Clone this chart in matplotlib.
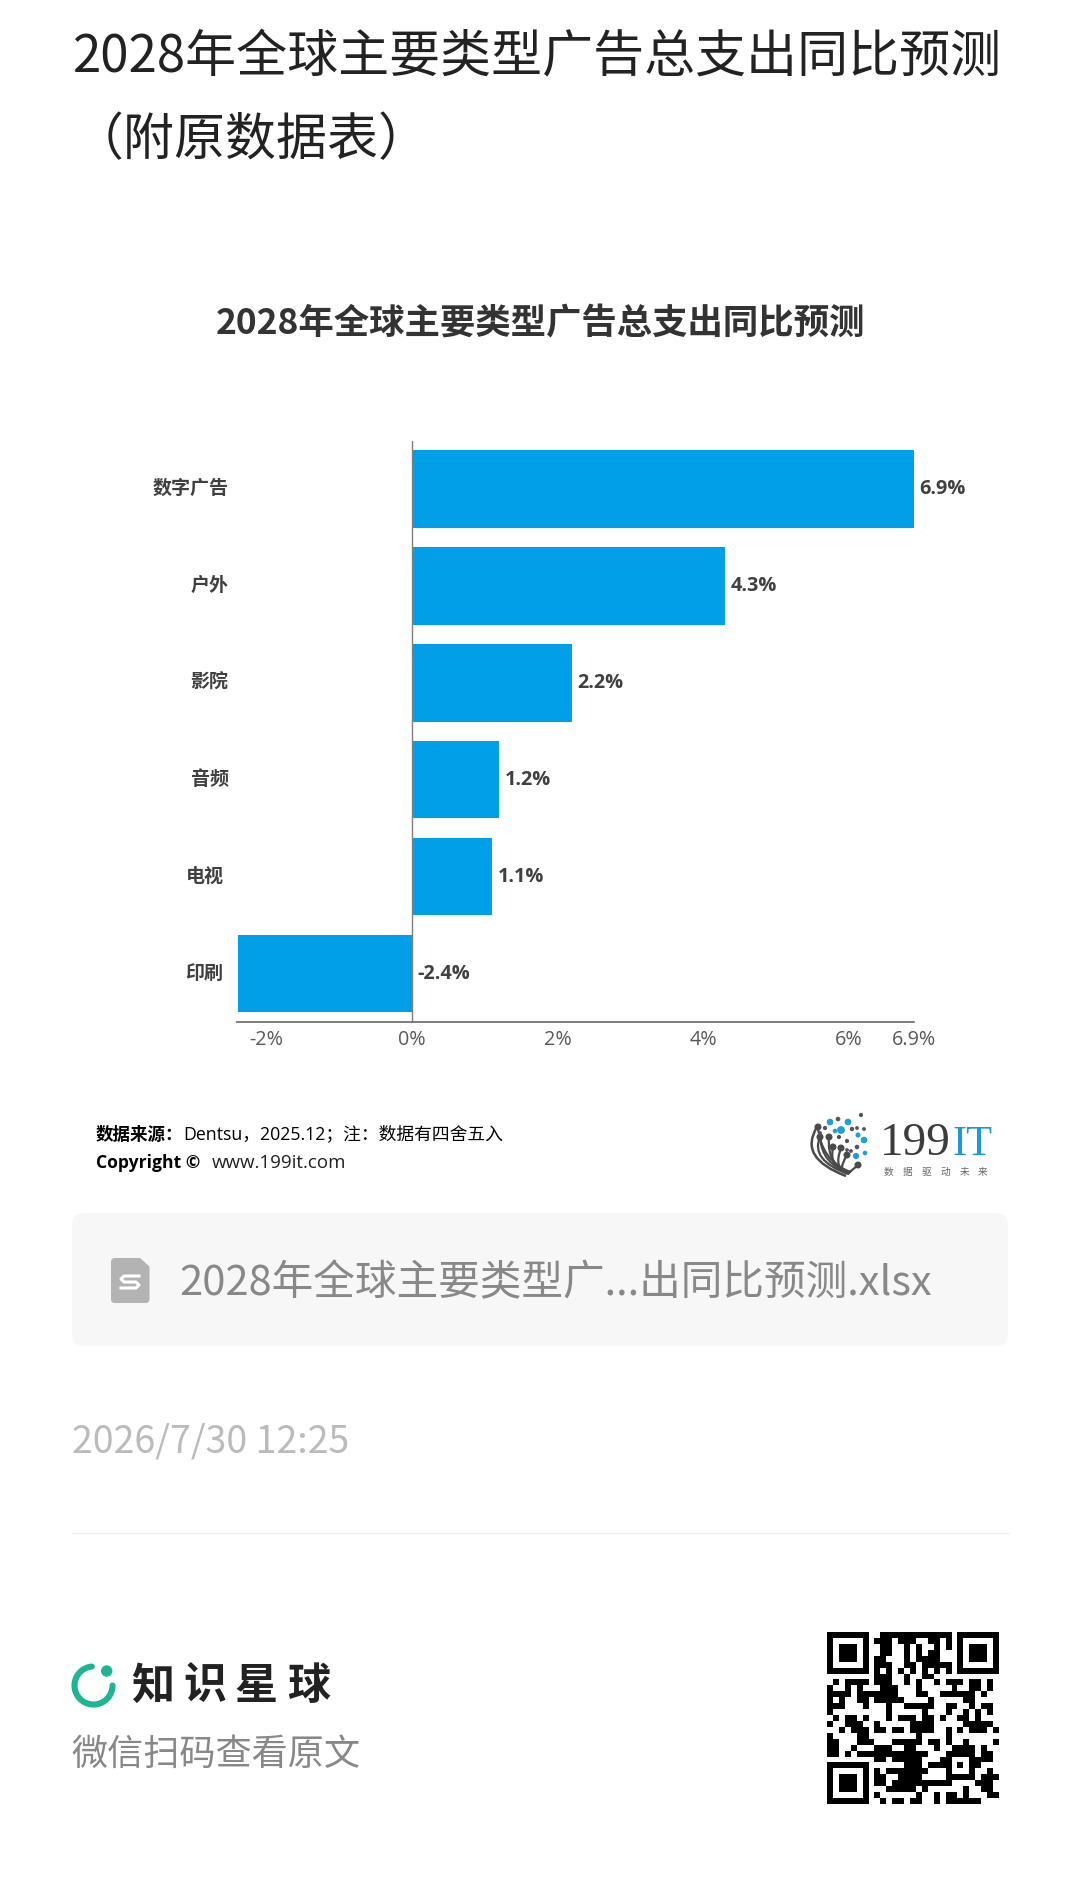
# -*- coding: utf-8 -*-
import numpy as np
import matplotlib
matplotlib.use('Agg')
import matplotlib.pyplot as plt
from matplotlib.patches import FancyBboxPatch, Circle, Polygon, PathPatch
from matplotlib.path import Path
from matplotlib.transforms import ScaledTranslation

plt.rcParams['font.family'] = ['Noto Sans CJK SC', 'DejaVu Sans']
CHART_FONT = ['Open Sans', 'Noto Sans CJK SC', 'DejaVu Sans']

# chart data
categories = ['数字广告', '户外', '影院', '音频', '电视', '印刷']
values = [6.9, 4.3, 2.2, 1.2, 1.1, -2.4]
value_labels = ['6.9%', '4.3%', '2.2%', '1.2%', '1.1%', '-2.4%']
tick_values = [-2, 0, 2, 4, 6, 6.9]
tick_labels = ['-2%', '0%', '2%', '4%', '6%', '6.9%']
label_pads = [9, 9, 9, 9, 14, 14]   # px, labels are not aligned in the original

page_title = ['2028年全球主要类型广告总支出同比预测', '（附原数据表）']
chart_title = '2028年全球主要类型广告总支出同比预测'
file_name = '2028年全球主要类型广...出同比预测.xlsx'
date_text = '2026/7/30 12:25'

# qr code, 29x29 modules
qr_rows = [
    '1111111001111111111110' + '1111111',
    '1000001011101110011010' + '1000001',
    '1011101001100101001010' + '1011101',
    '1011101001100101011000' + '1011101',
    '1011101011000101111000' + '1011101',
    '1000001011100110111110' + '1000001',
    '1111111010101010101010' + '1111111',
    '0000000' + '011100100110000' + '0000000',
    '0101111' + '011100101001011' + '1011010',
    '1001010' + '001110001000001' + '0011010',
    '1111011' + '111110001100111' + '1110100',
    '1010011' + '011111000010000' + '0110000',
    '1110001' + '000100111110011' + '0010110',
    '1000000' + '000100000100010' + '0101010',
    '0101101' + '000101110110100' + '1101000',
    '1001110' + '010000011110000' + '0111110',
    '0010111' + '011011011110010' + '1011101',
    '1000011' + '000000001000010' + '0000000',
    '1100011' + '100011111011010' + '0100001',
    '1100100' + '011100110001001' + '1110100',
    '1101011' + '111111111100011' + '1110110',
    '0000000' + '011011111000110' + '0011110',
    '1111111' + '000000111011110' + '1011000',
    '1000001' + '010111111100010' + '0010010',
    '1011101' + '011001111000011' + '1110111',
    '1011101' + '011011111111110' + '0001110',
    '1011101' + '000111110100000' + '0100110',
    '1000001' + '010000001001011' + '0100011',
    '1111111' + '001011011001011' + '1111000',
]

# 199IT logo dots and fan tips, pixels on the page
logo_blue_dots = [(830, 1122, 2.6), (848, 1122, 2.6), (841, 1130, 3.2), (864, 1140, 2.6),
                  (858, 1135, 1.8), (856, 1156, 2.4), (865, 1153, 1.6), (835, 1131, 1.6)]
logo_dark_dots = [(861, 1115, 1.4), (838, 1119, 1.6), (852, 1129, 1.5), (857, 1128, 1.2),
                  (864, 1129, 1.2), (825, 1128, 1.4), (839, 1137, 1.4), (847, 1141, 1.4),
                  (857, 1147, 1.6), (851, 1151, 1.2), (847, 1150, 1.2), (820, 1133, 1.2)]
logo_fan_tips = [(818, 1127), (820, 1137), (829, 1137), (833, 1147), (841, 1148), (847, 1155), (858, 1165)]

fig = plt.figure(figsize=(10.8, 19.02), dpi=100, facecolor='white')

# page layer in pixel coordinates
page = fig.add_axes([0, 0, 1, 1])
page.set_xlim(0, 1080)
page.set_ylim(1902, 0)
page.axis('off')

page.text(72.5, 58, page_title[0], fontsize=36.7, color='#222222', va='center')
page.text(72.5, 140, page_title[1], fontsize=36.7, color='#222222', va='center')
page.text(540, 324, chart_title, fontsize=25.5, fontweight='bold', color='#333333',
          ha='center', va='center')

# source lines
page.text(96, 1134.5, '数据来源：', fontsize=12.6, fontweight='bold', color='black', va='center',
          family=CHART_FONT)
page.text(183, 1134.5, 'Dentsu，2025.12；注：数据有四舍五入', fontsize=12.8, color='black', va='center',
          family=CHART_FONT)
page.text(96, 1163.5, 'Copyright ©', fontsize=12.6, fontweight='bold', color='black', va='center',
          family=CHART_FONT)
page.text(212, 1163.5, 'www.199it.com', fontsize=13.5, color='#222222', va='center',
          family=CHART_FONT)

# 199IT logo
base_x, base_y = 850, 1172
for tx, ty in logo_fan_tips:
    verts = [(base_x, base_y), ((tx + base_x) / 2 - 13, (ty + base_y) / 2 + 11), (tx, ty)]
    page.add_patch(PathPatch(Path(verts, [Path.MOVETO, Path.CURVE3, Path.CURVE3]),
                             fill=False, ec='#4a4a4a', lw=1.6))
    page.add_patch(Circle((tx, ty), 2.8, color='#4a4a4a'))
page.add_patch(PathPatch(Path([(817, 1127), (798, 1158), (846, 1176)],
                              [Path.MOVETO, Path.CURVE3, Path.CURVE3]),
                         fill=False, ec='#4a4a4a', lw=1.8))
page.add_patch(PathPatch(Path([(820, 1137), (810, 1160), (848, 1174)],
                              [Path.MOVETO, Path.CURVE3, Path.CURVE3]),
                         fill=False, ec='#4a4a4a', lw=1.6))
for x, y, r in logo_blue_dots:
    page.add_patch(Circle((x, y), r, color='#1f9ed8'))
for x, y, r in logo_dark_dots:
    page.add_patch(Circle((x, y), r, color='#555555'))
page.text(880, 1155, '199', fontsize=34, family='Liberation Serif', color='#3c3c3c',
          ha='left', va='baseline')
page.text(953, 1155, 'IT', fontsize=30.5, family='Liberation Serif', color='#1a9bd7',
          ha='left', va='baseline')
for i, ch in enumerate('数据驱动未来'):
    page.text(889 + i * 18.8, 1172, ch, fontsize=7, color='#666666', ha='center', va='center')

# file box
page.add_patch(FancyBboxPatch((84, 1225), 912, 109, boxstyle='round,pad=12,rounding_size=12',
                              fc='#f7f7f7', ec='none'))
page.add_patch(FancyBboxPatch((115, 1262), 30.5, 37, boxstyle='round,pad=4,rounding_size=4',
                              fc='#b3b3b3', ec='none'))
page.add_patch(Polygon([(139, 1257), (150.5, 1257), (150.5, 1268)], fc='#f7f7f7', ec='none'))
page.plot([139, 124, 121, 124, 136, 139, 136, 121],
          [1276, 1276, 1279, 1282, 1282, 1285, 1288, 1288], color='white', lw=2.2)
page.text(179.5, 1284, file_name, fontsize=30, color='#888888', va='center')

page.text(72, 1442, date_text, fontsize=27, color='#bbbbbb', va='center')
page.plot([72, 1008], [1533, 1533], color='#eeeeee', lw=1)

# knowledge planet mark
theta = np.radians(np.linspace(0, 265, 80))
page.plot(93.5 + 19 * np.cos(theta), 1685.5 + 19 * np.sin(theta), color='#1db594', lw=4.4,
          solid_capstyle='round')
page.add_patch(Circle((106.7, 1671), 5, color='#1db594'))
for i, ch in enumerate('知识星球'):
    page.text(153 + i * 51.7, 1686, ch, fontsize=31, fontweight='bold', color='#222222',
              ha='center', va='center')
page.text(71, 1755, '微信扫码查看原文', fontsize=26, color='#888888', va='center')

# qr code
qr = np.array([[int(c) for c in row] for row in qr_rows])
page.imshow(qr, cmap='gray_r', vmin=0, vmax=1, interpolation='nearest',
            extent=(827, 999, 1804, 1632), aspect='auto', zorder=2)
page.set_xlim(0, 1080)
page.set_ylim(1902, 0)

# chart
ax = fig.add_axes([237.5 / 1080, 1 - 1022 / 1902, (914 - 237.5) / 1080, 581.5 / 1902])
ax.patch.set_alpha(0)
ypos = np.arange(len(categories))
ax.barh(ypos, values, height=0.8, color='#00a0e9')
ax.set_xlim(-2.4, 6.9)
ax.set_ylim(5.5, -0.5)
ax.axvline(0, color='#7f7f7f', lw=1)
for s in ['top', 'right', 'left']:
    ax.spines[s].set_visible(False)
ax.spines['bottom'].set_color('#666666')
ax.spines['bottom'].set_linewidth(1.2)

ax.set_xticks(tick_values)
ax.set_xticklabels(tick_labels, fontsize=14.2, color='#595959', family=CHART_FONT)
ax.tick_params(axis='x', length=0, pad=5.5)
ax.set_yticks(ypos)
ax.set_yticklabels(categories, fontsize=13.7, fontweight='bold', color='#404040', family=CHART_FONT)
ax.tick_params(axis='y', length=0)
for tick, pad in zip(ax.yaxis.get_major_ticks(), label_pads):
    tick.set_pad(pad * 0.72)
up = ScaledTranslation(0, 2.5 / 100, fig.dpi_scale_trans)
for lab in ax.get_yticklabels():
    lab.set_transform(lab.get_transform() + up)

for y, v, lab in zip(ypos, values, value_labels):
    ax.annotate(lab, (max(v, 0), y), xytext=(4, 0), textcoords='offset points', va='center',
                fontsize=14.3, fontweight='bold', color='#404040', family=CHART_FONT)

fig.savefig('out.png', dpi=100)
